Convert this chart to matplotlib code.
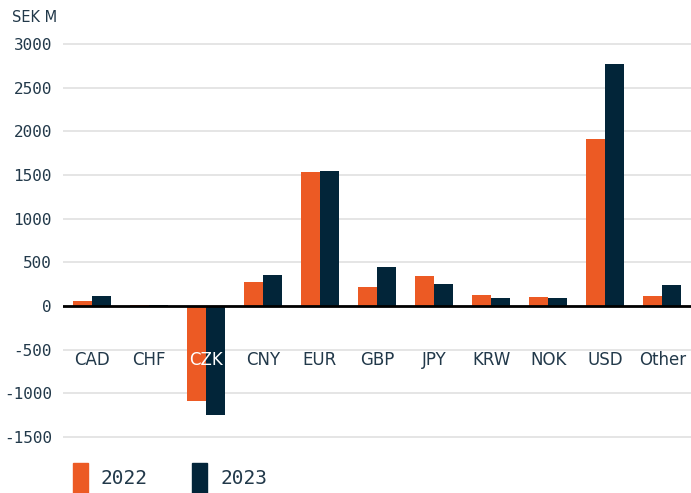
import matplotlib
matplotlib.use("Agg")
import matplotlib.pyplot as plt
from matplotlib.patches import Rectangle
import numpy as np

currencies = ["CAD", "CHF", "CZK", "CNY", "EUR", "GBP", "JPY", "KRW", "NOK", "USD", "Other"]
values_2022 = [57, 12, -1090, 275, 1533, 217, 343, 126, 103, 1911, 114]
values_2023 = [115, 5, -1250, 355, 1545, 446, 252, 92, 92, 2770, 240]
years = ["2022", "2023"]
yticks = [-1500, -1000, -500, 0, 500, 1000, 1500, 2000, 2500, 3000]

ORANGE = "#EC5A24"
NAVY = "#022539"
TEXT = "#22394a"

W, H = 691, 493
fig = plt.figure(figsize=(W / 100, H / 100), dpi=100)
ax = fig.add_axes([63 / W, (H - 450) / H, (W - 63) / W, 410.5 / H])

x = np.arange(len(currencies))
bw = 0.333
ax.bar(x - bw / 2, values_2022, width=bw, color=ORANGE, zorder=3)
ax.bar(x + bw / 2, values_2023, width=bw, color=NAVY, zorder=3)

ax.set_xlim(-0.5, len(currencies) - 0.5)
ax.set_ylim(-1650, 3050)
ax.set_yticks(yticks)
ax.set_yticklabels([str(v) for v in yticks], family="DejaVu Sans Mono",
                   fontsize=11.5, color=TEXT)
ax.tick_params(axis="y", length=0, pad=8)
ax.set_xticks([])
ax.grid(axis="y", color="#e0e0e0", lw=1.2, zorder=0)
ax.axhline(0, color="black", lw=2, zorder=4)
for s in ax.spines.values():
    s.set_visible(False)

for i, c in enumerate(currencies):
    col = "white" if c == "CZK" else TEXT
    ax.text(i, -620, c, ha="center", va="center", fontsize=12, color=col,
            family="DejaVu Sans", zorder=5)

fig.text(12 / W, 1 - 17 / H, "SEK M", ha="left", va="center", fontsize=10.5,
         color=TEXT, family="DejaVu Sans")

# legend
for xp, col, lab in [(73, ORANGE, years[0]), (192, NAVY, years[1])]:
    fig.add_artist(Rectangle((xp / W, 0), 15 / W, 30 / H, transform=fig.transFigure,
                             color=col))
    fig.text((xp + 28) / W, 1 - 479 / H, lab, ha="left", va="center",
             fontsize=14, color=TEXT, family="DejaVu Sans Mono")

fig.savefig("out.png", dpi=100)
